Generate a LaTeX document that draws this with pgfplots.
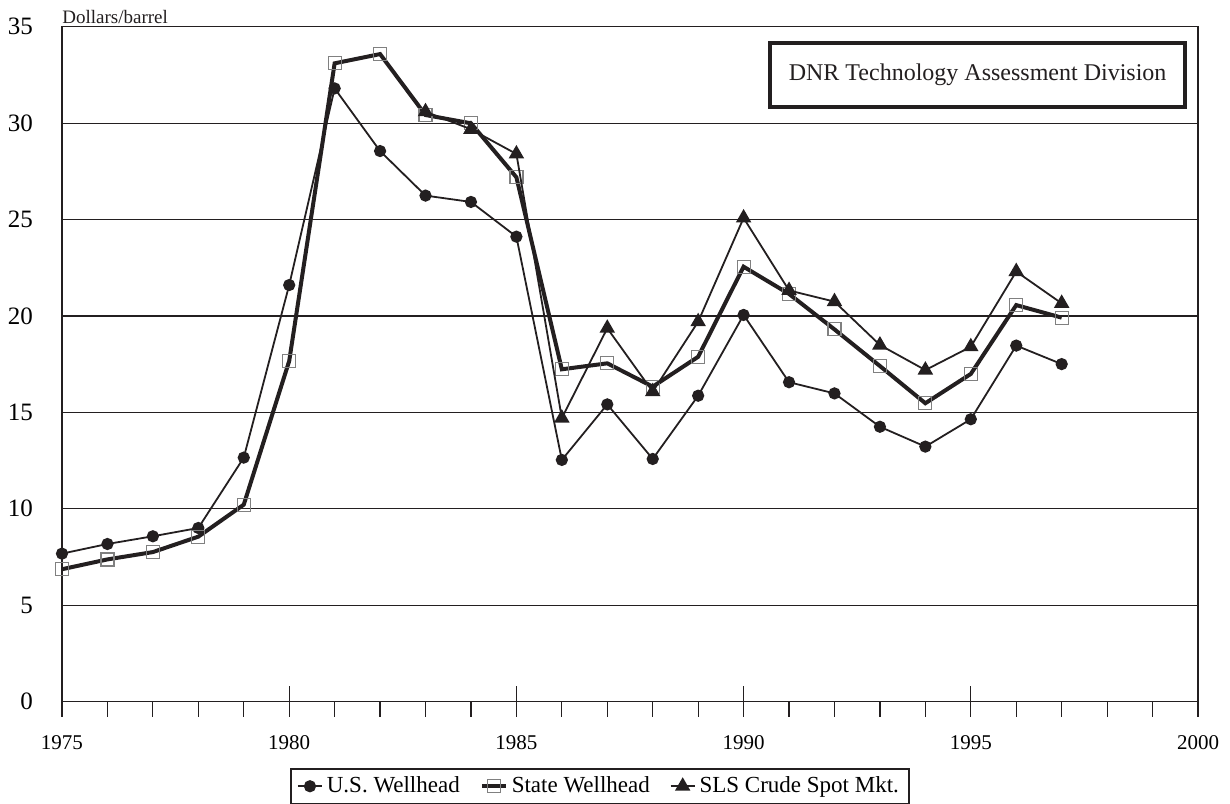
\documentclass[border=0pt]{standalone}
\usepackage{fontspec}
\setmainfont{Liberation Serif}
\usepackage{pgfplots}
\pgfplotsset{compat=1.18}
\definecolor{ink}{HTML}{231F20}
\definecolor{sq}{HTML}{808080}
\begin{document}
\begin{tikzpicture}
\begin{axis}[
  at={(0,0)}, anchor=south west,
  scale only axis, width=568pt, height=337.4pt,
  clip mode=individual,
  xmin=1975, xmax=2000, ymin=0, ymax=35,
  xtick={1975,1980,...,2000},
  minor x tick num=4,
  ytick={0,5,...,35},
  ymajorgrids, grid style={ink, line width=0.6pt},
  axis line style={ink, line width=0.8pt},
  tick align=outside, xtick pos=bottom, ytick pos=left,
  major tick length=7.5pt, minor tick length=7.5pt,
  tick style={ink, line width=0.6pt},
  ytick style={draw=none},
  extra x ticks={1980,1985,1990,1995},
  extra x tick labels={},
  extra x tick style={tick align=inside, major tick length=8pt, xmajorgrids=false},
  xticklabel style={font=\fontsize{10.5}{12}\selectfont, yshift=-6pt},
  yticklabel style={font=\fontsize{12.5}{14}\selectfont, anchor=east, xshift=-3.5pt},
  /pgf/number format/assume math mode=true,
  /pgf/number format/1000 sep={},
  legend style={at={(0.4736,-0.0985)}, anchor=north, legend columns=-1,
    draw=ink, line width=0.8pt, font=\fontsize{11.5}{13}\selectfont,
    inner xsep=3pt, inner ysep=2pt,
    /tikz/every even column/.append style={column sep=8pt}},
  legend image code/.code={\draw[mark repeat=2,mark phase=2,#1] plot coordinates {(0pt,0pt)(6pt,0pt)(12pt,0pt)};},
]
\addplot[ink, line width=0.9pt, mark=*, mark size=2.6pt, mark options={fill=ink, draw=ink, solid}] coordinates {
(1975,7.67)(1976,8.17)(1977,8.57)(1978,9.00)(1979,12.65)(1980,21.6)(1981,31.8)(1982,28.55)(1983,26.24)(1984,25.91)(1985,24.11)(1986,12.53)(1987,15.41)(1988,12.58)(1989,15.86)(1990,20.05)(1991,16.56)(1992,15.98)(1993,14.25)(1994,13.22)(1995,14.64)(1996,18.46)(1997,17.5)};
\addlegendentry{U.S. Wellhead}
\addplot[ink, line width=2pt, mark=square, mark size=3.25pt, mark options={draw=sq, line width=0.6pt, fill=none, solid}] coordinates {
(1975,6.86)(1976,7.37)(1977,7.75)(1978,8.55)(1979,10.21)(1980,17.66)(1981,33.1)(1982,33.58)(1983,30.42)(1984,29.99)(1985,27.19)(1986,17.23)(1987,17.54)(1988,16.33)(1989,17.88)(1990,22.55)(1991,21.14)(1992,19.3)(1993,17.4)(1994,15.47)(1995,16.99)(1996,20.56)(1997,19.91)};
\addlegendentry{State Wellhead}
\addplot[ink, line width=0.9pt, mark=triangle*, mark size=3.6pt, mark options={fill=ink, draw=ink, solid}] coordinates {
(1983,30.59)(1984,29.68)(1985,28.4)(1986,14.7)(1987,19.36)(1988,16.07)(1989,19.7)(1990,25.08)(1991,21.32)(1992,20.74)(1993,18.49)(1994,17.19)(1995,18.4)(1996,22.3)(1997,20.65)};
\addlegendentry{SLS Crude Spot Mkt.}
\draw[ink, line width=1.75pt, fill=white] (axis cs:1990.58,30.83) rectangle (axis cs:1999.71,34.15);
\node[font=\fontsize{12}{14}\selectfont, text=ink] at (axis cs:1995.15,32.52) {DNR Technology Assessment Division};
\node[anchor=base west, inner sep=0pt, font=\fontsize{9.5}{11}\selectfont, text=ink] at (rel axis cs:0,1) [yshift=1.85pt] {Dollars/barrel};
\end{axis}
\pgfresetboundingbox
\path (-31pt,-50.75pt) rectangle (584pt,350.75pt);
\end{tikzpicture}
\end{document}
